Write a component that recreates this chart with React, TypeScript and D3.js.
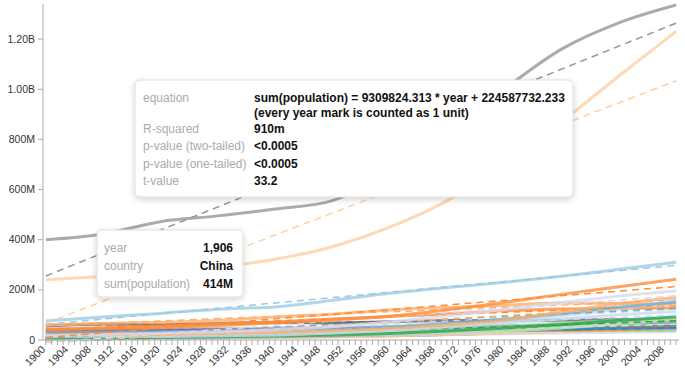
import React from 'react';
import * as d3 from 'd3';

// x axis categories: one mark per year
const years = d3.range(1900, 2011);
const labelYears = years.filter(y => (y - 1900) % 4 === 0);
const sampleYears = [1900, 1910, 1920, 1930, 1940, 1950, 1960, 1970, 1980, 1990, 2000, 2010];
const yTicks = [0, 200, 400, 600, 800, 1000, 1200];

// population in millions at sampleYears
const china = [400, 423, 472, 495, 522, 556, 667, 818, 1000, 1160, 1265, 1336];
const india = [240, 253, 268, 290, 322, 372, 450, 555, 700, 870, 1053, 1231];
const usa = [76, 92, 106, 123, 132, 158, 186, 209, 230, 254, 282, 310];
const indonesia = [40, 45, 50, 58, 68, 80, 95, 120, 150, 182, 212, 242];
const brazil = [17, 22, 27, 33, 41, 53, 72, 96, 122, 150, 175, 195];
const pakistan = [20, 22, 23, 26, 30, 37, 46, 60, 80, 112, 145, 170];
const bangladesh = [29, 31, 33, 36, 40, 44, 53, 67, 84, 106, 131, 151];
const nigeria = [16, 18, 20, 23, 27, 33, 42, 56, 74, 97, 123, 159];
const russia = [60, 66, 70, 78, 92, 103, 120, 130, 139, 148, 146, 143];
const japan = [44, 49, 56, 64, 72, 84, 94, 104, 117, 124, 127, 128];
const mexico = [14, 15, 14, 17, 20, 28, 38, 52, 68, 84, 101, 114];
const philippines = [8, 9, 11, 13, 16, 19, 26, 36, 48, 62, 78, 93];
const vietnam = [13, 15, 17, 19, 22, 25, 32, 43, 54, 68, 80, 88];
const ethiopia = [11, 12, 13, 14, 16, 18, 22, 29, 35, 48, 66, 83];
const egypt = [10, 12, 13, 15, 17, 21, 27, 35, 44, 57, 68, 81];
const germany = [56, 64, 61, 66, 70, 68, 73, 78, 78, 79, 82, 82];
const iran = [10, 11, 11, 13, 15, 17, 22, 29, 39, 56, 66, 74];
const turkey = [12, 13, 13, 14, 17, 21, 28, 35, 45, 56, 64, 72];
const thailand = [7, 8, 9, 12, 15, 20, 27, 36, 47, 57, 63, 67];
const france = [41, 41, 39, 41, 41, 42, 46, 51, 54, 57, 59, 63];
const uk = [38, 42, 44, 46, 48, 50, 52, 56, 56, 57, 59, 62];
const italy = [33, 36, 38, 41, 44, 47, 50, 54, 56, 57, 57, 60];
const korea = [8, 9, 10, 12, 14, 20, 25, 32, 38, 43, 47, 49];
const ukraine = [28, 31, 28, 30, 36, 37, 42, 47, 50, 52, 49, 46];
const spain = [19, 20, 21, 24, 26, 28, 31, 34, 38, 39, 41, 46];
const poland = [24, 26, 27, 32, 33, 25, 30, 33, 36, 38, 38, 38];
const colombia = [4, 5, 6, 8, 9, 12, 16, 22, 28, 34, 40, 46];
const argentina = [5, 7, 9, 12, 14, 17, 21, 24, 28, 33, 37, 40];
const myanmar = [10, 12, 13, 15, 17, 19, 22, 27, 34, 41, 46, 48];
const southAfrica = [5, 6, 7, 9, 11, 14, 17, 22, 29, 37, 45, 50];
const canada = [5, 7, 9, 10, 12, 14, 18, 21, 25, 28, 31, 34];
const congo = [11, 11, 11, 12, 13, 15, 20, 23, 32, 35, 46, 66];

const countries = ['China', 'India', 'United States', 'Indonesia', 'Brazil', 'Pakistan', 'Bangladesh',
  'Nigeria', 'Russia', 'Japan', 'Mexico', 'Philippines', 'Vietnam', 'Ethiopia', 'Egypt', 'Germany',
  'Iran', 'Turkey', 'Thailand', 'France', 'United Kingdom', 'Italy', 'South Korea', 'Ukraine', 'Spain',
  'Poland', 'Colombia', 'Argentina', 'Myanmar', 'South Africa', 'Canada', 'Congo'];
const values = [china, india, usa, indonesia, brazil, pakistan, bangladesh, nigeria, russia, japan,
  mexico, philippines, vietnam, ethiopia, egypt, germany, iran, turkey, thailand, france, uk, italy,
  korea, ukraine, spain, poland, colombia, argentina, myanmar, southAfrica, canada, congo];
const colors = ['#969696', '#fdd0a2', '#9ecae1', '#fd8d3c', '#dadaeb', '#fdae6b', '#6baed6',
  '#c6dbef', '#fdae6b', '#fd8d3c', '#c6dbef', '#31a354', '#a1d99b', '#c7e9c0', '#74c476', '#636363',
  '#9e9ac8', '#bcbddc', '#d9d9d9', '#756bb1', '#bdbdbd', '#e6550d', '#3182bd', '#9ecae1', '#fd8d3c',
  '#a1d99b', '#fdd0a2', '#c6dbef', '#3182bd', '#756bb1', '#dadaeb', '#31a354'];

const regressionRows = [
  ['equation', 'sum(population) = 9309824.313 * year + 224587732.233'],
  ['', '(every year mark is counted as 1 unit)'],
  ['R-squared', '910m'],
  ['p-value (two-tailed)', '<0.0005'],
  ['p-value (one-tailed)', '<0.0005'],
  ['t-value', '33.2'],
];
const pointRows = [
  ['year', '1,906'],
  ['country', 'China'],
  ['sum(population)', '414M'],
];

const W = 685;
const H = 373;
const margin = { top: 4, right: 6, bottom: 33, left: 43 };
const font = '"Liberation Sans", Arial, Helvetica, sans-serif';

const fit = (vals: number[]) => {
  const xs = sampleYears.map(y => y - 1900);
  const mx = d3.mean(xs) as number;
  const my = d3.mean(vals) as number;
  const slope = d3.sum(xs, (x, i) => (x - mx) * (vals[i] - my)) / d3.sum(xs, x => (x - mx) ** 2);
  return { slope, intercept: my - slope * mx };
};

const fmt = (v: number) => (v === 0 ? '0' : v >= 1000 ? (v / 1000).toFixed(2) + 'B' : v + 'M');

export default function App() {
  const x = d3.scaleBand<number>().domain(years).range([margin.left, W - margin.right]);
  const cx = (yr: number) => (x(yr) as number) + x.bandwidth() / 2;
  const y = d3.scaleLinear().domain([0, 1340]).range([H - margin.bottom, margin.top]);

  const line = d3.line<[number, number]>()
    .x(d => cx(d[0]))
    .y(d => y(d[1]))
    .curve(d3.curveMonotoneX);

  const order = d3.range(countries.length).reverse();
  const y0 = H - margin.bottom;

  return (
    <svg width={W} height={H} style={{ position: 'absolute', left: 0, top: 0, fontFamily: font }}>
      <defs>
        <filter id="shadow" x="-10%" y="-20%" width="120%" height="150%">
          <feDropShadow dx="0" dy="2" stdDeviation="3" floodColor="#000" floodOpacity="0.18" />
        </filter>
      </defs>

      {order.map(i => {
        const { slope, intercept } = fit(values[i]);
        const trend: [number, number][] = [1900, 2010].map(yr => [yr, intercept + slope * (yr - 1900)]);
        return (
          <g key={countries[i]}>
            <path d={line(sampleYears.map((yr, j) => [yr, values[i][j]] as [number, number])) || ''}
              fill="none" stroke={colors[i]} strokeWidth={3} strokeOpacity={0.8} />
            <path d={d3.line<[number, number]>().x(d => cx(d[0])).y(d => y(d[1]))(trend) || ''}
              fill="none" stroke={colors[i]} strokeWidth={1.5} strokeDasharray="7,5" />
          </g>
        );
      })}

      {/* y axis */}
      <g>
        <line x1={margin.left} x2={margin.left} y1={margin.top} y2={y0} stroke="#aaa" />
        {yTicks.map(t => (
          <g key={t} transform={`translate(0,${y(t)})`}>
            <line x1={margin.left - 5} x2={margin.left} stroke="#aaa" />
            <text x={margin.left - 8} dy="0.34em" textAnchor="end" fontSize={10.5} fill="#333">{fmt(t)}</text>
          </g>
        ))}
      </g>

      {/* x axis */}
      <g>
        <line x1={margin.left} x2={W - margin.right} y1={y0} y2={y0} stroke="#aaa" />
        {years.map(yr => (
          <line key={yr} x1={cx(yr)} x2={cx(yr)} y1={y0} y2={y0 + 5} stroke="#aaa" />
        ))}
        {labelYears.map(yr => (
          <g key={yr} transform={`translate(${cx(yr)},${y0 + 10}) rotate(-45)`}>
            <text textAnchor="end" fontSize={10.5} fill="#333">{yr}</text>
          </g>
        ))}
      </g>

      {/* regression tooltip */}
      <g>
        <rect x={135} y={80} width={438} height={117} rx={5} fill="#fff" stroke="#ddd" filter="url(#shadow)" />
        {regressionRows.map((r, i) => {
          const by = [101.5, 117, 132.5, 150, 167.5, 185][i];
          return (
            <g key={i}>
              <text x={143} y={by} fontSize={12} fill="#aaa">{r[0]}</text>
              <text x={254} y={by} fontSize={12} fontWeight="bold" fill="#111">{r[1]}</text>
            </g>
          );
        })}
      </g>

      {/* point tooltip */}
      <g>
        <rect x={97} y={230} width={146} height={67} rx={5} fill="#fff" stroke="#ddd" filter="url(#shadow)" />
        {pointRows.map((r, i) => (
          <g key={i}>
            <text x={104} y={252 + i * 18} fontSize={12} fill="#aaa">{r[0]}</text>
            <text x={233} y={252 + i * 18} fontSize={12} fontWeight="bold" fill="#111" textAnchor="end">{r[1]}</text>
          </g>
        ))}
      </g>
    </svg>
  );
}
